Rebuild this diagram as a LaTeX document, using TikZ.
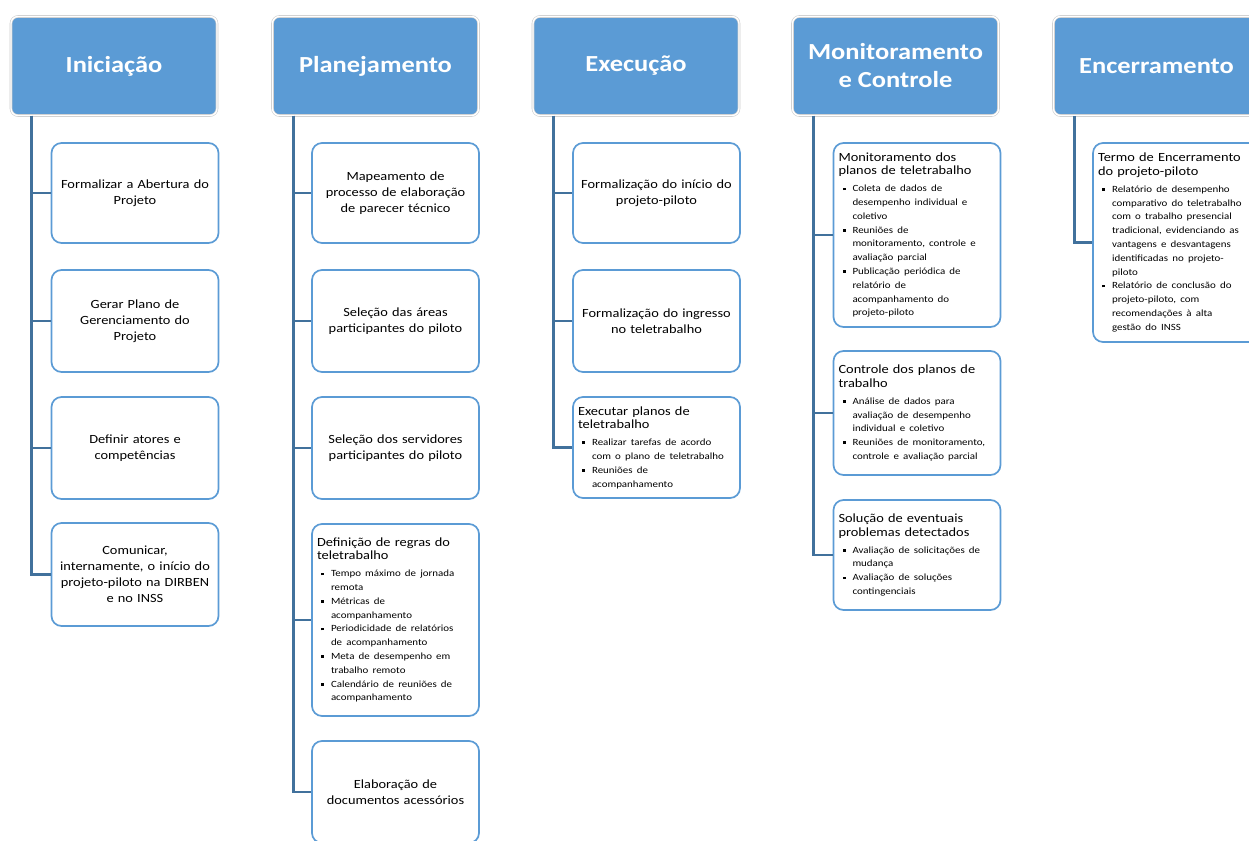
\documentclass[tikz,border=0pt]{standalone}
\usepackage{fontspec}
\setmainfont{Carlito}[FakeStretch=1.15]
\usepackage{enumitem}
\usetikzlibrary{positioning, calc}
\definecolor{phaseblue}{RGB}{91,155,213}
\definecolor{trunkblue}{RGB}{65,113,156}
\newcommand{\sqbul}{\rule[0.35ex]{2.6pt}{2.6pt}}
\newenvironment{tlist}{\fontsize{9.5}{13.8}\selectfont
  \begin{itemize}[label=\sqbul, leftmargin=14pt, labelsep=7pt, itemsep=0pt,
    parsep=0pt, topsep=3pt, partopsep=0pt]}{\end{itemize}}
\tikzset{
  phase/.style={fill=phaseblue, draw=black!20, line width=0.6pt, double=white,
                double distance=1.4pt, rounded corners=7pt, text=white, align=center,
                font=\fontsize{23}{28}\selectfont\bfseries, minimum width=206, minimum height=99},
  task/.style={draw=phaseblue, line width=1.7pt, fill=white, rounded corners=10pt,
               text width=157, inner xsep=5pt, minimum width=167, align=center,
               font=\fontsize{12.5}{16}\selectfont},
  tasklist/.style={task, align=left, font=\fontsize{12.5}{15}\selectfont},
  trunk/.style={draw=trunkblue, line width=2.6pt},
}
\begin{document}
\begin{tikzpicture}[x=1pt, y=-1pt]
\useasboundingbox (0,0) rectangle (1249,840);
\clip (0,0) rectangle (1249,840);

% fases
\node[phase] (ini) at (114,66) {Iniciação};
\node[phase] (pla) at (375.5,66) {Planejamento};
\node[phase] (exe) at (636,66) {Execução};
\node[phase] (mon) at (895.5,66) {Monitoramento\\e Controle};
\node[phase] (enc) at (1156.5,66) {Encerramento};

% Iniciacao
\node[task, minimum height=100] (ini1) at (135,193) {Formalizar a Abertura do\\Projeto};
\node[task, minimum height=102] (ini2) at (135,321) {Gerar Plano de\\Gerenciamento do\\Projeto};
\node[task, minimum height=102] (ini3) at (135,448) {Definir atores e\\competências};
\node[task, minimum height=103] (ini4) at (135,574.5) {Comunicar,\\internamente, o início do\\projeto-piloto na DIRBEN\\e no INSS};

% Planejamento
\node[task, minimum height=100] (pla1) at (395.5,193) {Mapeamento de\\processo de elaboração\\de parecer técnico};
\node[task, minimum height=102] (pla2) at (395.5,321) {Seleção das áreas\\participantes do piloto};
\node[task, minimum height=102] (pla3) at (395.5,448) {Seleção dos servidores\\participantes do piloto};
\node[tasklist, minimum height=192] (pla4) at (395.5,620) {Definição de regras do\\teletrabalho
  \begin{tlist}
  \item Tempo máximo de jornada\\remota
  \item Métricas de\\acompanhamento
  \item Periodicidade de relatórios\\de acompanhamento
  \item Meta de desempenho em\\trabalho remoto
  \item Calendário de reuniões de\\acompanhamento
  \end{tlist}};
\node[task, minimum height=102] (pla5) at (395.5,792) {Elaboração de\\documentos acessórios};

% Execucao
\node[task, minimum height=100] (exe1) at (656.5,193) {Formalização do início do\\projeto-piloto};
\node[task, minimum height=102] (exe2) at (656.5,321) {Formalização do ingresso\\no teletrabalho};
\node[tasklist, minimum height=101] (exe3) at (656.5,447.5) {Executar planos de\\teletrabalho
  \begin{tlist}
  \item Realizar tarefas de acordo\\com o plano de teletrabalho
  \item Reuniões de\\acompanhamento
  \end{tlist}};

% Monitoramento e Controle
\node[tasklist, minimum height=184] (mon1) at (917,235) {Monitoramento dos\\planos de teletrabalho
  \begin{tlist}
  \item Coleta de dados de\\desempenho individual e\\coletivo
  \item Reuniões de\\monitoramento, controle e\\avaliação parcial
  \item Publicação periódica de\\relatório de\\acompanhamento do\\projeto-piloto
  \end{tlist}};
\node[tasklist, minimum height=124] (mon2) at (917,413) {Controle dos planos de\\trabalho
  \begin{tlist}
  \item Análise de dados para\\avaliação de desempenho\\individual e coletivo
  \item Reuniões de monitoramento,\\controle e avaliação parcial
  \end{tlist}};
\node[tasklist, minimum height=110] (mon3) at (917,555) {Solução de eventuais\\problemas detectados
  \begin{tlist}
  \item Avaliação de solicitações de\\mudança
  \item Avaliação de soluções\\contingenciais
  \end{tlist}};

% Encerramento
\node[tasklist, minimum height=199] (enc1) at (1176.5,242.5) {Termo de Encerramento\\do projeto-piloto
  \begin{tlist}
  \item Relatório de desempenho\\comparativo do teletrabalho\\com o trabalho presencial\\tradicional, evidenciando as\\vantagens e desvantagens\\identificadas no projeto-\\piloto
  \item Relatório de conclusão do\\projeto-piloto, com\\recomendações à alta\\gestão do INSS
  \end{tlist}};

% ligacoes
\foreach \ph/\last in {ini/4, pla/5, exe/3, mon/3, enc/1} {
  \coordinate (\ph T) at ($(\ph.south west)+(21,0)$);
  \foreach \i in {1,...,\last}
    \draw[trunk] (\ph T) |- (\ph\i.west);
}
\end{tikzpicture}
\end{document}
